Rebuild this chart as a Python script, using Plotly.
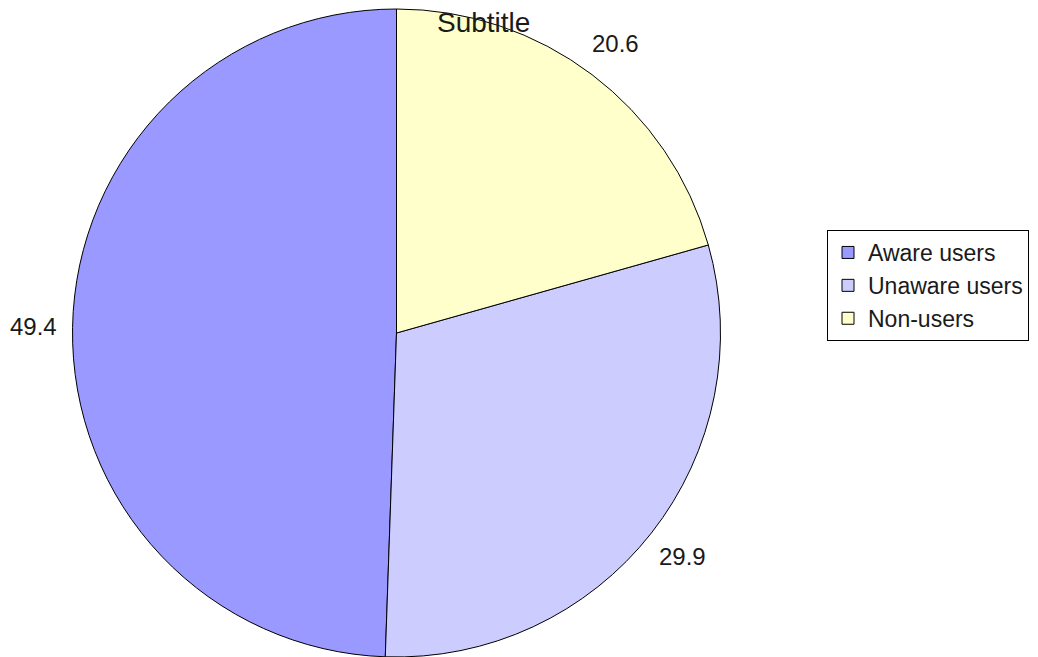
import math
import plotly.graph_objects as go

categories = ["Aware users", "Unaware users", "Non-users"]
values = [49.4, 29.9, 20.6]
colors = ["#9999ff", "#ccccff", "#ffffcc"]
title_text = "Subtitle"

W, H = 1038, 657
OFF = 8  # page body margin offset
FONT = "Liberation Sans, Arial, sans-serif"

# pie geometry (target window pixels, compensated for page offset)
cx, cy, R = 396.5 - OFF, 333.0 - OFF, 324.0
dom_x = [max(0, (cx - R) / W), min(1, (cx + R) / W)]
dom_y = [max(0, 1 - (cy + R) / H), min(1, 1 - (cy - R) / H)]

total = sum(values)
# plotly's counterclockwise mode puts the first slice clockwise of the start;
# rotate so the first slice starts at 12 o'clock going counterclockwise
first_angle = values[0] / total * 360

fig = go.Figure(go.Pie(
    labels=categories,
    values=values,
    sort=False,
    direction="counterclockwise",
    rotation=-first_angle,
    marker=dict(colors=colors, line=dict(color="#000000", width=1)),
    textinfo="none",
    hoverinfo="label+value",
    domain=dict(x=dom_x, y=dom_y),
))

# value labels placed just outside each slice's mid-angle (counterclockwise from 12 o'clock)
annotations = []
start = 0.0
for v in values:
    mid = start + v / total * 360 / 2
    start += v / total * 360
    ang = math.radians(mid)
    rl = R * 1.12
    px = cx - rl * math.sin(ang)
    py = cy - rl * math.cos(ang)
    annotations.append(dict(
        x=px / W, y=1 - py / H, xref="paper", yref="paper",
        text=f"{v:.1f}", showarrow=False,
        xanchor="center", yanchor="middle",
        font=dict(family=FONT, size=24, color="#1a1a1a"),
    ))

annotations.append(dict(
    x=(483 - OFF) / W, y=1 - (22 - OFF) / H, xref="paper", yref="paper",
    text=title_text, showarrow=False, xanchor="center", yanchor="middle",
    font=dict(family=FONT, size=28, color="#1a1a1a"),
))

fig.update_layout(
    width=W, height=H,
    margin=dict(l=0, r=0, t=0, b=0),
    paper_bgcolor="white",
    plot_bgcolor="white",
    font=dict(family=FONT, size=23, color="#1a1a1a"),
    showlegend=True,
    legend=dict(
        x=(827 - OFF) / W, y=1 - (230 - OFF) / H, xanchor="left", yanchor="top",
        bordercolor="#000000", borderwidth=1, bgcolor="white",
        font=dict(family=FONT, size=23, color="#1a1a1a"),
        traceorder="normal",
    ),
    annotations=annotations,
)

fig.write_html("out.html")
